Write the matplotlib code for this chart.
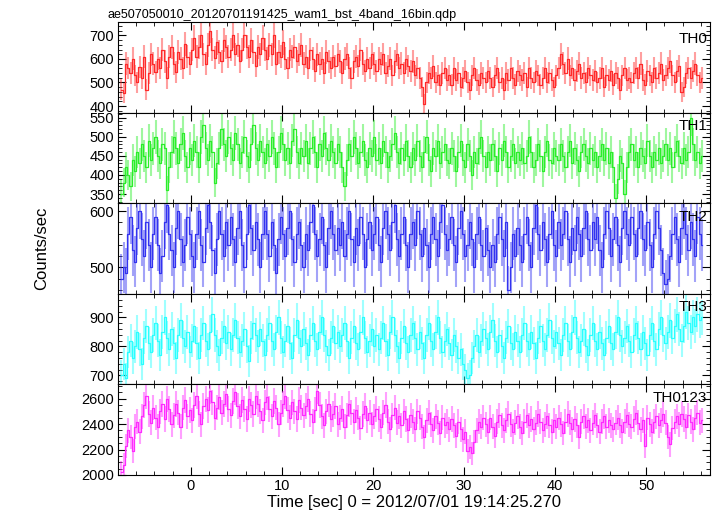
import numpy as np
import matplotlib
matplotlib.use("Agg")
import matplotlib.pyplot as plt
from matplotlib.ticker import MultipleLocator

plt.rcParams['font.family'] = ['Liberation Sans', 'DejaVu Sans']

# light curves, 0.25 s bins, first bin centred at t = -7.625 s
bin_size = 0.25
t0 = -7.625

th0 = [470, 455, 580, 560, 540, 600, 530, 500, 565, 520, 610, 470, 540, 620, 580, 545,
       600, 560, 640, 590, 520, 610, 650, 580, 545, 630, 600, 560, 665, 610, 580, 640,
       690, 610, 650, 700, 620, 580, 660, 720, 640, 605, 670, 630, 590, 680, 650, 610,
       640, 700, 620, 660, 590, 640, 700, 650, 610, 680, 630, 570, 650, 620, 690, 640,
       600, 660, 620, 700, 580, 630, 610, 670, 600, 560, 640, 610, 650, 590, 620, 660,
       580, 610, 560, 640, 600, 550, 620, 580, 600, 540, 630, 590, 560, 610, 570, 620,
       590, 540, 600, 620, 560, 520, 590, 610, 570, 640, 580, 550, 600, 560, 620, 580,
       550, 600, 580, 620, 540, 570, 600, 530, 590, 620, 560, 580, 540, 600, 570, 550,
       590, 530, 560, 520, 480, 410, 500, 540, 520, 570, 500, 530, 490, 540, 560, 510,
       530, 490, 560, 510, 540, 480, 520, 550, 500, 470, 530, 560, 510, 490, 540, 520,
       500, 550, 520, 480, 530, 560, 500, 520, 470, 540, 510, 560, 520, 490, 550, 530,
       510, 540, 480, 560, 520, 500, 550, 530, 490, 520, 560, 500, 540, 510, 480, 530,
       560, 620, 580, 540, 600, 530, 560, 510, 550, 580, 520, 540, 500, 560, 530, 510,
       550, 500, 520, 560, 480, 530, 510, 550, 490, 540, 520, 470, 530, 560, 510, 520,
       500, 540, 560, 520, 580, 510, 490, 550, 530, 500, 560, 520, 540, 580, 510, 530,
       560, 590, 530, 500, 550, 570, 460, 480, 540, 560, 520, 550, 580, 530, 500, 520]

th1 = [350, 380, 420, 400, 370, 440, 410, 460, 430, 480, 450, 420, 490, 440, 470, 500,
       450, 430, 480, 470, 360, 420, 460, 500, 470, 430, 480, 510, 450, 420, 470, 440,
       490, 460, 420, 500, 530, 470, 440, 490, 460, 380, 430, 470, 520, 480, 450, 500,
       470, 440, 510, 480, 430, 460, 500, 450, 420, 480, 530, 470, 440, 490, 460, 430,
       480, 450, 500, 470, 420, 460, 510, 480, 440, 470, 430, 490, 520, 460, 430, 470,
       450, 490, 430, 470, 500, 460, 420, 480, 450, 510, 470, 440, 490, 460, 430, 480,
       460, 420, 370, 440, 480, 450, 500, 470, 430, 460, 490, 440, 420, 470, 450, 500,
       440, 470, 430, 490, 460, 420, 450, 480, 510, 460, 430, 470, 440, 490, 450, 420,
       470, 440, 490, 450, 420, 460, 500, 440, 410, 470, 450, 490, 430, 460, 480, 440,
       430, 470, 450, 410, 460, 490, 440, 420, 480, 450, 400, 460, 430, 470, 500, 450,
       420, 460, 440, 480, 450, 410, 470, 440, 490, 460, 420, 450, 480, 430, 460, 440,
       470, 430, 450, 500, 460, 420, 440, 480, 450, 410, 460, 490, 440, 430, 470, 450,
       440, 480, 450, 420, 460, 490, 430, 470, 440, 410, 460, 480, 450, 430, 470, 440,
       460, 420, 450, 480, 440, 470, 430, 460, 420, 340, 390, 450, 430, 350, 420, 460,
       480, 440, 460, 420, 470, 450, 430, 490, 450, 420, 460, 440, 470, 430, 450, 480,
       440, 470, 420, 460, 490, 450, 430, 470, 440, 460, 550, 480, 440, 460, 430, 450]

th2 = [480, 500, 490, 560, 590, 530, 510, 570, 600, 550, 520, 580, 540, 500, 560, 590,
       540, 490, 520, 580, 610, 560, 530, 500, 570, 600, 550, 510, 540, 590, 560, 520,
       500, 560, 600, 540, 510, 570, 610, 580, 530, 490, 550, 600, 560, 520, 580, 540,
       590, 550, 510, 570, 600, 540, 500, 560, 610, 570, 530, 580, 550, 500, 560, 600,
       560, 520, 580, 540, 490, 550, 590, 560, 520, 570, 600, 550, 510, 560, 580, 540,
       500, 560, 530, 580, 610, 560, 520, 550, 590, 540, 500, 570, 600, 560, 530, 570,
       540, 580, 520, 560, 600, 550, 510, 570, 540, 590, 560, 500, 550, 580, 530, 560,
       590, 540, 510, 570, 600, 560, 530, 580, 610, 550, 520, 560, 590, 540, 500, 560,
       580, 540, 600, 560, 520, 570, 540, 500, 560, 590, 550, 520, 580, 610, 560, 530,
       550, 590, 540, 510, 570, 600, 560, 520, 540, 580, 550, 500, 560, 590, 540, 520,
       570, 530, 500, 540, 510, 560, 590, 550, 520, 580, 460, 500, 560, 520, 570, 540,
       510, 560, 590, 540, 500, 570, 610, 560, 530, 580, 550, 510, 560, 600, 540, 520,
       580, 540, 560, 600, 550, 510, 570, 530, 590, 560, 520, 570, 600, 550, 530, 580,
       550, 590, 530, 500, 560, 600, 570, 520, 550, 590, 540, 510, 570, 600, 560, 540,
       590, 560, 520, 570, 600, 550, 530, 580, 540, 500, 560, 600, 570, 530, 490, 470,
       480, 520, 560, 590, 550, 510, 570, 600, 560, 530, 580, 550, 520, 590, 560, 540]

th3 = [700, 740, 690, 780, 820, 760, 800, 850, 790, 740, 830, 870, 810, 780, 840, 880,
       820, 770, 850, 900, 830, 790, 860, 810, 760, 840, 890, 830, 800, 850, 780, 820,
       870, 810, 760, 840, 880, 820, 790, 850, 910, 840, 800, 770, 830, 870, 810, 850,
       790, 840, 890, 830, 780, 820, 860, 800, 750, 830, 880, 840, 800, 860, 820, 770,
       840, 880, 820, 790, 850, 900, 830, 780, 820, 870, 810, 760, 840, 890, 830, 800,
       860, 810, 770, 840, 880, 820, 790, 850, 900, 840, 800, 770, 830, 870, 810, 850,
       800, 840, 880, 820, 760, 830, 870, 810, 790, 850, 900, 830, 780, 820, 860, 800,
       840, 790, 830, 880, 820, 770, 850, 900, 840, 800, 760, 830, 870, 810, 780, 840,
       880, 830, 790, 850, 810, 760, 840, 880, 820, 790, 850, 900, 830, 780, 820, 860,
       810, 770, 840, 800, 760, 790, 740, 720, 690, 700, 760, 800, 840, 780, 820, 860,
       830, 790, 850, 890, 820, 780, 840, 800, 760, 830, 870, 810, 790, 850, 820, 780,
       840, 880, 820, 790, 850, 810, 760, 830, 870, 820, 790, 840, 890, 830, 800, 850,
       810, 770, 840, 880, 820, 790, 850, 900, 830, 780, 820, 860, 800, 770, 840, 880,
       820, 790, 850, 810, 770, 830, 870, 810, 790, 850, 900, 840, 800, 830, 870, 820,
       780, 840, 880, 830, 790, 850, 810, 770, 840, 880, 820, 790, 860, 900, 840, 810,
       850, 890, 830, 870, 910, 860, 820, 870, 920, 880, 850, 900, 870, 910, 890, 900]

th0123 = [2020, 2080, 2230, 2350, 2300, 2190, 2380, 2420, 2340, 2460, 2550, 2620, 2480, 2410, 2530, 2450,
          2380, 2500, 2560, 2440, 2600, 2520, 2400, 2470, 2560, 2490, 2380, 2530, 2590, 2460, 2510, 2430,
          2550, 2620, 2480, 2400, 2540, 2600, 2510, 2660, 2570, 2450, 2530, 2610, 2490, 2560, 2640, 2520,
          2470, 2580, 2650, 2540, 2460, 2590, 2520, 2440, 2600, 2550, 2480, 2620, 2560, 2500, 2430, 2570,
          2610, 2520, 2460, 2580, 2530, 2400, 2490, 2560, 2620, 2510, 2450, 2570, 2500, 2440, 2590, 2530,
          2470, 2540, 2600, 2480, 2420, 2510, 2660, 2550, 2460, 2390, 2500, 2560, 2440, 2480, 2540, 2400,
          2450, 2520, 2380, 2470, 2560, 2490, 2420, 2510, 2450, 2370, 2480, 2540, 2430, 2490, 2400, 2460,
          2520, 2440, 2380, 2490, 2550, 2420, 2360, 2470, 2530, 2410, 2460, 2390, 2500, 2440, 2350, 2470,
          2420, 2360, 2500, 2450, 2380, 2300, 2430, 2490, 2400, 2350, 2460, 2410, 2330, 2450, 2390, 2420,
          2360, 2440, 2390, 2310, 2420, 2360, 2280, 2340, 2190, 2220, 2170, 2260, 2350, 2420, 2380, 2450,
          2400, 2340, 2450, 2380, 2310, 2420, 2470, 2390, 2350, 2430, 2480, 2400, 2340, 2410, 2460, 2380,
          2330, 2420, 2470, 2390, 2440, 2360, 2410, 2480, 2420, 2350, 2400, 2460, 2390, 2340, 2430, 2380,
          2450, 2400, 2330, 2420, 2480, 2410, 2360, 2440, 2390, 2300, 2420, 2460, 2380, 2430, 2350, 2410,
          2470, 2390, 2340, 2420, 2460, 2380, 2430, 2390, 2360, 2410, 2450, 2390, 2340, 2420, 2470, 2400,
          2380, 2440, 2490, 2410, 2360, 2430, 2230, 2450, 2400, 2340, 2420, 2460, 2390, 2430, 2480, 2410,
          2300, 2240, 2370, 2420, 2460, 2400, 2480, 2440, 2380, 2470, 2420, 2360, 2450, 2490, 2410, 2430]

names = ['TH0', 'TH1', 'TH2', 'TH3', 'TH0123']
series = [th0, th1, th2, th3, th0123]
colors = ['#ff2a2a', '#2aee2a', '#3333f0', '#2affff', '#ff2aff']
ylims = [(372, 757), (326, 563), (453, 614), (669, 981), (2000, 2712)]
yticks = [[400, 500, 600, 700], [350, 400, 450, 500, 550], [500, 600],
          [700, 800, 900], [2000, 2200, 2400, 2600]]
yminor = [20, 10, 20, 20, 50]
label_y = [0.89, 0.93, 0.93, 0.93, 0.93]

fig = plt.figure(figsize=(7.17, 5.16), dpi=100)
left, right = 118 / 717, 710 / 717
top, bottom = 1 - 22 / 516, 1 - 475 / 516
h = (top - bottom) / 5

for k in range(5):
    ax = fig.add_axes([left, top - (k + 1) * h, right - left, h])
    y = np.array(series[k], dtype=float)
    t = t0 + bin_size * np.arange(len(y))
    err = np.sqrt(y / bin_size)
    ax.errorbar(t, y, yerr=err, fmt='none', ecolor=colors[k], alpha=0.45, elinewidth=1.5)
    ax.step(t, y, where='mid', color=colors[k], lw=0.9)
    ax.set_xlim(-8, 57)
    ax.set_ylim(*ylims[k])
    ax.set_yticks(yticks[k])
    ax.yaxis.set_minor_locator(MultipleLocator(yminor[k]))
    ax.xaxis.set_major_locator(MultipleLocator(10))
    ax.xaxis.set_minor_locator(MultipleLocator(2))
    ax.tick_params(which='both', direction='in', top=True, right=True, labelsize=10.5, pad=3)
    ax.tick_params(which='major', length=6)
    ax.tick_params(which='minor', length=3)
    if k < 4:
        ax.tick_params(labelbottom=False)
    ax.text(0.995, label_y[k], names[k], transform=ax.transAxes, ha='right', va='top', fontsize=11)
    if k == 0:
        ax.set_title('ae507050010_20120701191425_wam1_bst_4band_16bin.qdp',
                     loc='left', fontsize=9, x=-0.017, pad=3)
    if k == 4:
        ax.set_xlabel('Time [sec] 0 = 2012/07/01 19:14:25.270', fontsize=12, labelpad=1)

fig.text(0.058, (top + bottom) / 2, 'Counts/sec', rotation=90, ha='center', va='center', fontsize=12)

fig.savefig('out.png', dpi=100)
